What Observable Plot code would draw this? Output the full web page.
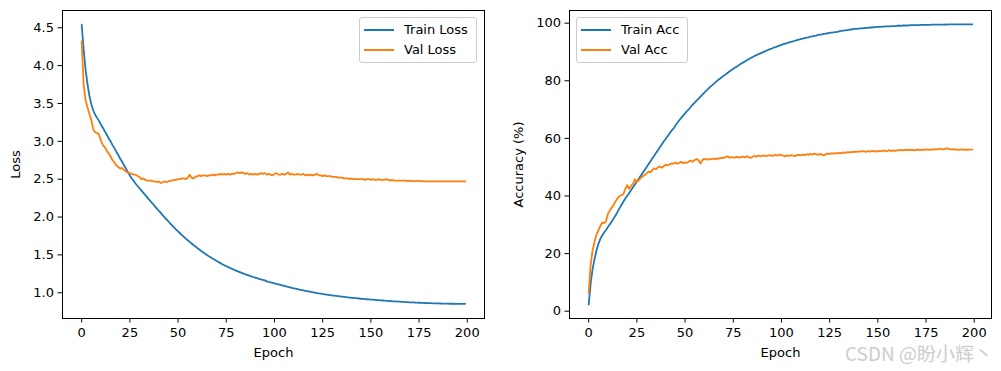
<!DOCTYPE html>
<html>
<head>
<meta charset="utf-8">
<script src="https://cdn.jsdelivr.net/npm/d3@7"></script>
<script src="https://cdn.jsdelivr.net/npm/@observablehq/plot@0.6"></script>
<style>
  html, body { margin: 0; padding: 0; background: #fff; }
  #wrap { position: relative; width: 1001px; height: 371px; overflow: hidden; font-family: "DejaVu Sans", sans-serif; }
  .panel { position: absolute; top: 0; }
  .legend { position: absolute; box-sizing: border-box; border: 1px solid #cccccc; border-radius: 3px; background: rgba(255,255,255,0.8); font-family: "DejaVu Sans", sans-serif; font-size: 13px; color: #000; }
  .legend .sw { position: absolute; left: 4px; width: 30px; height: 2px; }
  .legend .lb { position: absolute; left: 44px; line-height: 16px; white-space: nowrap; }
  #wm { position: absolute; left: 845px; top: 339px; font-family: "Noto Sans CJK SC", sans-serif; font-size: 19px; color: #cdcdcd; white-space: nowrap; text-shadow: 0 0 1px #fff; }
</style>
</head>
<body>
<div id="wrap">
  <div id="left" class="panel" style="left:0px"></div>
  <div id="right" class="panel" style="left:500px"></div>
  <div id="wm">CSDN @盼小辉丶</div>
</div>
<script>
// ---- data ----
const trainLoss = [
  4.54,4.22,3.95,3.76,3.60,3.49,3.41,3.35,3.31,3.27,
  3.22,3.18,3.13,3.09,3.04,3.00,2.95,2.91,2.86,2.82,
  2.77,2.73,2.68,2.64,2.59,2.55,2.51,2.475,2.44,2.41,
  2.380,2.350,2.320,2.290,2.260,2.231,2.201,2.172,2.142,2.112,
  2.083,2.054,2.025,1.997,1.969,1.941,1.914,1.887,1.861,1.835,
  1.810,1.786,1.762,1.739,1.716,1.694,1.672,1.651,1.630,1.610,
  1.590,1.571,1.552,1.534,1.516,1.499,1.482,1.466,1.450,1.435,
  1.420,1.405,1.391,1.377,1.364,1.351,1.339,1.327,1.315,1.304,
  1.293,1.282,1.272,1.262,1.252,1.243,1.234,1.225,1.216,1.208,
  1.200,1.192,1.184,1.177,1.170,1.163,1.150,1.143,1.137,1.131,
  1.125,1.118,1.111,1.104,1.097,1.090,1.083,1.077,1.071,1.065,
  1.059,1.053,1.047,1.041,1.036,1.031,1.026,1.021,1.016,1.011,
  1.006,1.001,0.996,0.992,0.988,0.984,0.980,0.976,0.972,0.968,
  0.964,0.961,0.958,0.955,0.952,0.949,0.946,0.943,0.940,0.937,
  0.934,0.932,0.929,0.926,0.924,0.921,0.919,0.917,0.914,0.912,
  0.910,0.908,0.906,0.904,0.902,0.900,0.898,0.896,0.894,0.892,
  0.890,0.888,0.887,0.885,0.883,0.882,0.880,0.879,0.877,0.876,
  0.874,0.873,0.872,0.870,0.869,0.868,0.867,0.866,0.865,0.864,
  0.863,0.862,0.861,0.860,0.859,0.859,0.858,0.857,0.857,0.856,
  0.856,0.855,0.855,0.855,0.854,0.854,0.854,0.854,0.854,0.854
];
const valLoss = [
  4.32,3.75,3.55,3.45,3.36,3.28,3.16,3.12,3.11,3.09,
  3.01,2.95,2.92,2.88,2.84,2.80,2.75,2.72,2.68,2.66,
  2.64,2.65,2.62,2.60,2.59,2.58,2.57,2.56,2.56,2.54,
  2.53,2.50,2.51,2.49,2.48,2.48,2.48,2.47,2.47,2.46,
  2.47,2.45,2.46,2.47,2.46,2.47,2.48,2.48,2.49,2.49,
  2.50,2.50,2.51,2.51,2.50,2.52,2.56,2.52,2.51,2.53,
  2.54,2.55,2.54,2.55,2.55,2.54,2.55,2.55,2.56,2.55,
  2.56,2.56,2.57,2.56,2.57,2.56,2.57,2.56,2.57,2.57,
  2.58,2.59,2.58,2.59,2.58,2.57,2.58,2.56,2.57,2.56,
  2.57,2.56,2.57,2.58,2.57,2.58,2.56,2.57,2.56,2.55,
  2.57,2.58,2.56,2.56,2.57,2.56,2.57,2.59,2.56,2.57,
  2.56,2.56,2.57,2.56,2.56,2.57,2.55,2.56,2.55,2.56,
  2.55,2.56,2.57,2.55,2.55,2.54,2.55,2.54,2.54,2.54,
  2.53,2.53,2.53,2.52,2.52,2.52,2.51,2.51,2.51,2.50,
  2.51,2.50,2.50,2.50,2.50,2.50,2.50,2.49,2.50,2.50,
  2.49,2.50,2.49,2.49,2.50,2.49,2.49,2.49,2.50,2.49,
  2.48,2.49,2.48,2.48,2.48,2.48,2.48,2.48,2.48,2.475,
  2.48,2.475,2.475,2.475,2.48,2.475,2.475,2.475,2.47,2.47,
  2.47,2.47,2.47,2.47,2.47,2.47,2.47,2.47,2.47,2.47,
  2.47,2.47,2.47,2.47,2.47,2.47,2.47,2.47,2.47,2.47
];
const trainAcc = [
  2.3,9.5,14.5,18.0,21.0,23.3,25.0,26.3,27.3,28.2,
  29.2,30.2,31.2,32.3,33.3,34.5,35.7,36.9,38.0,39.1,
  40.1,41.0,42.0,43.0,44.0,45.0,46.0,47.0,48.0,49.0,
  50.0,51.0,52.0,53.0,54.0,55.0,56.0,57.0,58.0,59.0,
  59.9,60.8,61.8,62.7,63.4,64.5,65.4,66.3,67.1,67.9,
  68.7,69.5,70.2,71.0,71.7,72.4,73.1,73.8,74.5,75.2,
  75.9,76.6,77.2,77.9,78.4,79.0,79.6,80.2,80.7,81.2,
  81.7,82.2,82.7,83.2,83.7,84.2,84.6,85.0,85.5,85.9,
  86.3,86.7,87.1,87.5,87.9,88.2,88.6,88.9,89.2,89.5,
  89.8,90.1,90.4,90.7,91.0,91.2,91.5,91.7,92.0,92.2,
  92.5,92.7,92.9,93.1,93.3,93.5,93.7,93.9,94.1,94.3,
  94.5,94.6,94.8,95.0,95.1,95.3,95.4,95.6,95.7,95.9,
  96.0,96.1,96.3,96.4,96.5,96.6,96.7,96.8,96.9,97.0,
  97.2,97.3,97.4,97.5,97.6,97.7,97.8,97.9,98.0,98.0,
  98.1,98.2,98.2,98.3,98.4,98.4,98.5,98.5,98.6,98.6,
  98.7,98.7,98.8,98.8,98.9,98.9,98.9,99.0,99.0,99.0,
  99.1,99.1,99.1,99.2,99.2,99.2,99.2,99.3,99.3,99.3,
  99.3,99.3,99.4,99.4,99.4,99.4,99.4,99.4,99.5,99.5,
  99.5,99.5,99.5,99.5,99.5,99.6,99.5,99.6,99.6,99.6,
  99.6,99.6,99.6,99.6,99.6,99.6,99.6,99.6,99.6,99.6
];
const valAcc = [
  6.3,16.0,21.0,24.0,26.5,28.0,29.5,30.8,30.6,31.2,
  33.8,35.0,36.0,37.0,38.2,39.2,40.0,40.3,40.6,42.5,
  43.8,42.5,43.5,44.2,45.8,44.8,45.5,46.2,46.8,47.3,
  47.8,48.5,48.2,49.0,49.6,49.3,50.0,50.2,49.8,50.4,
  50.8,50.6,51.0,51.3,51.2,51.6,51.2,51.5,51.9,51.4,
  51.7,51.5,52.0,52.3,51.9,52.5,52.8,52.4,51.3,52.4,
  53.0,52.6,52.8,52.7,52.9,53.0,52.8,53.1,53.0,53.3,
  53.2,53.5,53.8,53.3,53.5,53.3,53.4,53.6,53.3,53.5,
  53.7,53.4,53.8,53.5,53.2,53.6,53.9,53.7,54.0,53.8,
  53.9,54.1,53.8,54.0,54.2,53.9,54.1,54.3,54.0,54.4,
  54.2,54.0,53.7,54.1,53.9,54.2,54.0,53.8,54.2,54.3,
  54.1,54.4,54.2,54.5,54.3,54.6,54.4,54.7,54.5,54.3,
  54.6,54.4,54.1,54.5,54.7,54.6,54.8,54.7,54.9,54.8,
  55.0,54.9,55.1,55.0,55.2,55.1,55.3,55.2,55.4,55.3,
  55.5,55.4,55.6,55.5,55.3,55.6,55.4,55.7,55.5,55.6,
  55.4,55.7,55.5,55.8,55.6,55.7,55.9,55.6,55.8,55.7,
  55.9,55.8,56.0,55.8,56.0,55.9,56.1,55.9,56.0,55.8,
  56.0,56.1,55.9,56.1,56.0,56.2,56.1,56.0,56.2,56.1,
  56.3,56.2,56.4,56.3,56.2,56.4,56.5,56.3,56.2,56.3,
  56.1,56.2,56.0,56.1,56.2,56.1,56.0,56.1,56.1,56.1
];
const epochs = trainLoss.map((_, i) => i);
const xTicks = [0, 25, 50, 75, 100, 125, 150, 175, 200];
const lossTicks = [1.0, 1.5, 2.0, 2.5, 3.0, 3.5, 4.0, 4.5];
const accTicks = [0, 20, 40, 60, 80, 100];
const lossSeries = ["Train Loss", "Val Loss"];
const accSeries = ["Train Acc", "Val Acc"];
const colors = ["#1f77b4", "#ff7f0e"];

const common = {
  height: 371, marginTop: 10, marginBottom: 53,
  style: { fontFamily: "DejaVu Sans, sans-serif", fontSize: "13px", color: "#000", background: "transparent", overflow: "visible" },
  x: { domain: [-9.95, 208.95] }
};

function panel(opts) {
  return Plot.plot({
    ...common,
    width: opts.width, marginLeft: opts.ml, marginRight: opts.mr,
    y: { domain: opts.ydom },
    marks: [
      Plot.axisX({ ticks: xTicks, tickSize: 4.5, tickPadding: 5, label: "Epoch", labelAnchor: "center", labelArrow: "none", labelOffset: 38 }),
      Plot.axisY({ ticks: opts.ticks, tickFormat: opts.fmt, tickSize: 4.5, tickPadding: 4, label: opts.label, labelAnchor: "center", labelArrow: "none", labelOffset: opts.lo }),
      Plot.line(opts.a, { x: epochs, y: opts.a, stroke: colors[0], strokeWidth: 1.8 }),
      Plot.line(opts.b, { x: epochs, y: opts.b, stroke: colors[1], strokeWidth: 1.8 }),
      Plot.frame({ stroke: "#000", strokeWidth: 1 })
    ]
  });
}

document.getElementById("left").append(panel({
  width: 500, ml: 62, mr: 16, ydom: [0.660, 4.728], ticks: lossTicks, fmt: d3.format(".1f"),
  label: "Loss", lo: 52, a: trainLoss, b: valLoss
}));
document.getElementById("right").append(panel({
  width: 501, ml: 69, mr: 10, ydom: [-2.53, 104.4], ticks: accTicks, fmt: d3.format("d"),
  label: "Accuracy (%)", lo: 56, a: trainAcc, b: valAcc
}));

function legend(left, width, names) {
  const box = document.createElement("div");
  box.className = "legend";
  Object.assign(box.style, { left: left + "px", top: "17px", width: width + "px", height: "46px" });
  names.forEach((n, i) => {
    const sw = document.createElement("div");
    sw.className = "sw";
    sw.style.top = (11 + i * 20) + "px";
    sw.style.background = colors[i];
    const lb = document.createElement("div");
    lb.className = "lb";
    lb.style.top = (4 + i * 20) + "px";
    lb.textContent = n;
    box.append(sw, lb);
  });
  document.getElementById("wrap").append(box);
}
legend(359, 118, lossSeries);
legend(576, 112, accSeries);
</script>
</body>
</html>
